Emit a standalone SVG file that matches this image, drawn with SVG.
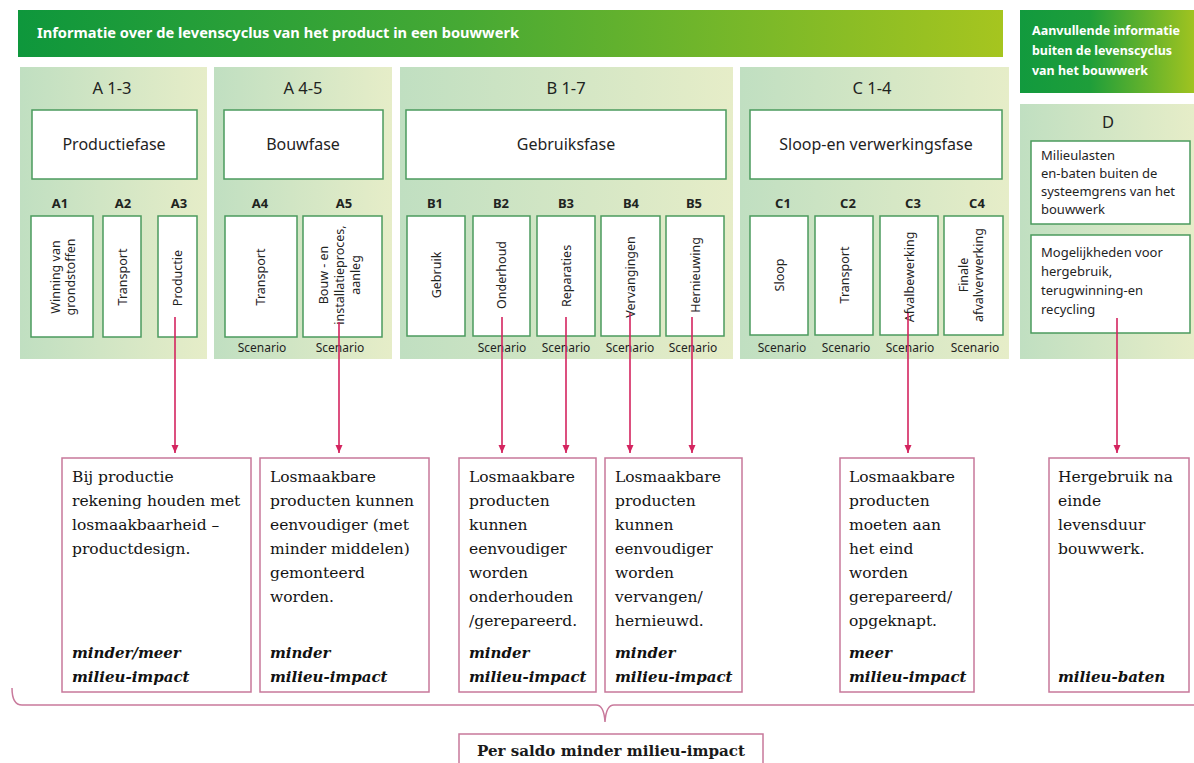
<svg xmlns="http://www.w3.org/2000/svg" width="1194" height="763" viewBox="0 0 1194 763">
<defs>
<linearGradient id="banner" x1="0" y1="0" x2="1" y2="0">
<stop offset="0" stop-color="#0e973c"/>
<stop offset="0.45" stop-color="#46a934"/>
<stop offset="1" stop-color="#a6c51f"/>
</linearGradient>
<linearGradient id="banner2" x1="0" y1="0" x2="1" y2="0">
<stop offset="0" stop-color="#129a3e"/>
<stop offset="0.4" stop-color="#1e9e3a"/>
<stop offset="1" stop-color="#a0c320"/>
</linearGradient>
<linearGradient id="panel" x1="0" y1="0" x2="1" y2="0">
<stop offset="0" stop-color="#c0dfc1"/>
<stop offset="1" stop-color="#e6edc8"/>
</linearGradient>
<marker id="arr" markerWidth="8" markerHeight="8" refX="8" refY="4" orient="auto" markerUnits="userSpaceOnUse">
<path d="M0,0.5 L8,4 L0,7.5 z" fill="#d4245f"/>
</marker>
<style>
.panel{fill:url(#panel);}
.gbox{fill:#ffffff;stroke:#4b9a5e;stroke-width:1.5;}
.pbox{fill:#ffffff;stroke:#c7789a;stroke-width:1.5;}
.ttl{font-family:"Noto Sans","DejaVu Sans",sans-serif;font-size:16.5px;fill:#1f241f;text-anchor:middle;}
.ph{font-family:"Noto Sans","DejaVu Sans",sans-serif;font-size:16px;fill:#1f241f;text-anchor:middle;}
.sub{font-family:"Noto Sans","DejaVu Sans",sans-serif;font-size:13px;font-weight:bold;fill:#1f241f;text-anchor:middle;}
.rot{font-family:"Noto Sans","DejaVu Sans",sans-serif;font-size:12.5px;fill:#1f241f;text-anchor:middle;dominant-baseline:central;}
.scn{font-family:"Noto Sans","DejaVu Sans",sans-serif;font-size:12px;fill:#1f241f;text-anchor:middle;}
.dtx{font-family:"Noto Sans","DejaVu Sans",sans-serif;font-size:13px;fill:#1f241f;}
.wh{font-family:"Noto Sans","DejaVu Sans",sans-serif;font-weight:bold;fill:#ffffff;}
.ser{font-family:"DejaVu Serif","Liberation Serif",serif;font-size:15.5px;fill:#141414;}
.bi{font-family:"DejaVu Serif","Liberation Serif",serif;font-size:15px;font-weight:bold;font-style:italic;fill:#111111;}
.conn{stroke:#d4245f;stroke-width:1.6;fill:none;}
</style>
</defs>
<rect width="1194" height="763" fill="#ffffff"/>

<g id="banner-main">
<rect x="18" y="10" width="985" height="47" fill="url(#banner)"/>
<text class="wh" x="37" y="38" font-size="14" textLength="482" lengthAdjust="spacingAndGlyphs">Informatie over de levenscyclus van het product in een bouwwerk</text>
</g>
<g id="banner-extra">
<rect x="1020" y="10" width="174" height="83" fill="url(#banner2)"/>
<text class="wh" font-size="12.5" x="1032" y="35" textLength="148" lengthAdjust="spacingAndGlyphs">Aanvullende informatie</text>
<text class="wh" font-size="12.5" x="1032" y="55" textLength="140" lengthAdjust="spacingAndGlyphs">buiten de levenscyclus</text>
<text class="wh" font-size="12.5" x="1032" y="75" textLength="116" lengthAdjust="spacingAndGlyphs">van het bouwwerk</text>
</g>

<g id="phase-A13">
<rect class="panel" x="20" y="67" width="187" height="292"/>
<text class="ttl" x="112" y="94">A 1-3</text>
<rect class="gbox" x="32" y="110" width="165" height="69"/>
<text class="ph" x="114" y="150">Productiefase</text>
<text class="sub" x="60" y="208">A1</text>
<text class="sub" x="123" y="208">A2</text>
<text class="sub" x="179" y="208">A3</text>
<rect class="gbox" x="31" y="216" width="62" height="121"/>
<rect class="gbox" x="103" y="216" width="38" height="121"/>
<rect class="gbox" x="158" y="216" width="39" height="121"/>
<text class="rot" transform="translate(62,277) rotate(-90)"><tspan x="0" y="-7.5">Winning van</tspan><tspan x="0" y="7.5">grondstoffen</tspan></text>
<text class="rot" transform="translate(122,277) rotate(-90)" x="0" y="0">Transport</text>
<text class="rot" transform="translate(177,278) rotate(-90)" x="0" y="0">Productie</text>
</g>

<g id="phase-A45">
<rect class="panel" x="214" y="67" width="178" height="292"/>
<text class="ttl" x="303" y="94">A 4-5</text>
<rect class="gbox" x="224" y="110" width="159" height="69"/>
<text class="ph" x="303" y="150">Bouwfase</text>
<text class="sub" x="260" y="208">A4</text>
<text class="sub" x="344" y="208">A5</text>
<rect class="gbox" x="225" y="216" width="72" height="121"/>
<rect class="gbox" x="303" y="216" width="79" height="121"/>
<text class="rot" transform="translate(260,277) rotate(-90)" x="0" y="0">Transport</text>
<text class="rot" transform="translate(339,275) rotate(-90)"><tspan x="0" y="-16">Bouw - en</tspan><tspan x="0" y="0">installatieproces,</tspan><tspan x="0" y="16">aanleg</tspan></text>
<text class="scn" x="262" y="352">Scenario</text>
<text class="scn" x="340" y="352">Scenario</text>
</g>

<g id="phase-B17">
<rect class="panel" x="400" y="67" width="333" height="292"/>
<text class="ttl" x="566" y="94">B 1-7</text>
<rect class="gbox" x="406" y="110" width="320" height="69"/>
<text class="ph" x="566" y="150">Gebruiksfase</text>
<text class="sub" x="435" y="208">B1</text>
<text class="sub" x="501" y="208">B2</text>
<text class="sub" x="566" y="208">B3</text>
<text class="sub" x="631" y="208">B4</text>
<text class="sub" x="694" y="208">B5</text>
<rect class="gbox" x="407" y="216" width="58" height="120"/>
<rect class="gbox" x="473" y="216" width="57" height="120"/>
<rect class="gbox" x="537" y="216" width="58" height="120"/>
<rect class="gbox" x="601" y="216" width="59" height="120"/>
<rect class="gbox" x="666" y="216" width="58" height="120"/>
<text class="rot" transform="translate(436,275) rotate(-90)" x="0" y="0">Gebruik</text>
<text class="rot" transform="translate(501,275) rotate(-90)" x="0" y="0">Onderhoud</text>
<text class="rot" transform="translate(566,276) rotate(-90)" x="0" y="0">Reparaties</text>
<text class="rot" transform="translate(630,277) rotate(-90)" x="0" y="0">Vervangingen</text>
<text class="rot" transform="translate(695,275) rotate(-90)" x="0" y="0">Hernieuwing</text>
<text class="scn" x="502" y="352">Scenario</text>
<text class="scn" x="566" y="352">Scenario</text>
<text class="scn" x="630" y="352">Scenario</text>
<text class="scn" x="693" y="352">Scenario</text>
</g>

<g id="phase-C14">
<rect class="panel" x="740" y="67" width="269" height="292"/>
<text class="ttl" x="872" y="94">C 1-4</text>
<rect class="gbox" x="750" y="110" width="252" height="69"/>
<text class="ph" x="876" y="150">Sloop-en verwerkingsfase</text>
<text class="sub" x="783" y="208">C1</text>
<text class="sub" x="848" y="208">C2</text>
<text class="sub" x="913" y="208">C3</text>
<text class="sub" x="977" y="208">C4</text>
<rect class="gbox" x="750" y="216" width="58" height="119"/>
<rect class="gbox" x="815" y="216" width="58" height="119"/>
<rect class="gbox" x="880" y="216" width="58" height="119"/>
<rect class="gbox" x="944" y="216" width="59" height="119"/>
<text class="rot" transform="translate(779,275) rotate(-90)" x="0" y="0">Sloop</text>
<text class="rot" transform="translate(844,275) rotate(-90)" x="0" y="0">Transport</text>
<text class="rot" transform="translate(909,277) rotate(-90)" x="0" y="0">Afvalbewerking</text>
<text class="rot" transform="translate(970,275) rotate(-90)"><tspan x="0" y="-7.5">Finale</tspan><tspan x="0" y="7.5">afvalverwerking</tspan></text>
<text class="scn" x="782" y="352">Scenario</text>
<text class="scn" x="846" y="352">Scenario</text>
<text class="scn" x="910" y="352">Scenario</text>
<text class="scn" x="975" y="352">Scenario</text>
</g>

<g id="phase-D">
<rect class="panel" x="1020" y="104" width="174" height="255"/>
<text class="ttl" x="1108" y="128">D</text>
<rect class="gbox" x="1031" y="141" width="159" height="83"/>
<text class="dtx" x="1041" y="160">Milieulasten</text>
<text class="dtx" x="1041" y="178">en-baten buiten de</text>
<text class="dtx" x="1041" y="196">systeemgrens van het</text>
<text class="dtx" x="1041" y="214">bouwwerk</text>
<rect class="gbox" x="1031" y="235" width="159" height="98"/>
<text class="dtx" x="1041" y="257">Mogelijkheden voor</text>
<text class="dtx" x="1041" y="276">hergebruik,</text>
<text class="dtx" x="1041" y="295">terugwinning-en</text>
<text class="dtx" x="1041" y="314">recycling</text>
</g>

<g id="connectors">
<line class="conn" x1="175" y1="317" x2="175" y2="453" marker-end="url(#arr)"/>
<line class="conn" x1="339" y1="322" x2="339" y2="453" marker-end="url(#arr)"/>
<line class="conn" x1="502" y1="317" x2="502" y2="453" marker-end="url(#arr)"/>
<line class="conn" x1="566" y1="317" x2="566" y2="453" marker-end="url(#arr)"/>
<line class="conn" x1="630" y1="313" x2="630" y2="453" marker-end="url(#arr)"/>
<line class="conn" x1="692" y1="317" x2="692" y2="453" marker-end="url(#arr)"/>
<line class="conn" x1="908" y1="313" x2="908" y2="453" marker-end="url(#arr)"/>
<line class="conn" x1="1117" y1="318" x2="1117" y2="453" marker-end="url(#arr)"/>
<path d="M12,688 Q12,705 22,705 L596,705 Q604,705 605,722 Q606,705 614,705 L1194,705" fill="none" stroke="#c97a9c" stroke-width="1.5"/>
</g>

<g id="box-A3">
<rect class="pbox" x="62" y="458" width="189" height="234"/>
<text class="ser" x="72" y="482">Bij productie</text>
<text class="ser" x="72" y="506">rekening houden met</text>
<text class="ser" x="72" y="530">losmaakbaarheid –</text>
<text class="ser" x="72" y="554">productdesign.</text>
<text class="bi" x="72" y="658">minder/meer</text>
<text class="bi" x="72" y="682">milieu-impact</text>
</g>
<g id="box-A5">
<rect class="pbox" x="260" y="458" width="169" height="234"/>
<text class="ser" x="270" y="482">Losmaakbare</text>
<text class="ser" x="270" y="506">producten kunnen</text>
<text class="ser" x="270" y="530">eenvoudiger (met</text>
<text class="ser" x="270" y="554">minder middelen)</text>
<text class="ser" x="270" y="578">gemonteerd</text>
<text class="ser" x="270" y="602">worden.</text>
<text class="bi" x="270" y="658">minder</text>
<text class="bi" x="270" y="682">milieu-impact</text>
</g>
<g id="box-B23">
<rect class="pbox" x="459" y="458" width="137" height="234"/>
<text class="ser" x="469" y="482">Losmaakbare</text>
<text class="ser" x="469" y="506">producten</text>
<text class="ser" x="469" y="530">kunnen</text>
<text class="ser" x="469" y="554">eenvoudiger</text>
<text class="ser" x="469" y="578">worden</text>
<text class="ser" x="469" y="602">onderhouden</text>
<text class="ser" x="469" y="626">/gerepareerd.</text>
<text class="bi" x="469" y="658">minder</text>
<text class="bi" x="469" y="682">milieu-impact</text>
</g>
<g id="box-B45">
<rect class="pbox" x="605" y="458" width="137" height="234"/>
<text class="ser" x="615" y="482">Losmaakbare</text>
<text class="ser" x="615" y="506">producten</text>
<text class="ser" x="615" y="530">kunnen</text>
<text class="ser" x="615" y="554">eenvoudiger</text>
<text class="ser" x="615" y="578">worden</text>
<text class="ser" x="615" y="602">vervangen/</text>
<text class="ser" x="615" y="626">hernieuwd.</text>
<text class="bi" x="615" y="658">minder</text>
<text class="bi" x="615" y="682">milieu-impact</text>
</g>
<g id="box-C3">
<rect class="pbox" x="840" y="458" width="134" height="234"/>
<text class="ser" x="849" y="482">Losmaakbare</text>
<text class="ser" x="849" y="506">producten</text>
<text class="ser" x="849" y="530">moeten aan</text>
<text class="ser" x="849" y="554">het eind</text>
<text class="ser" x="849" y="578">worden</text>
<text class="ser" x="849" y="602">gerepareerd/</text>
<text class="ser" x="849" y="626">opgeknapt.</text>
<text class="bi" x="849" y="658">meer</text>
<text class="bi" x="849" y="682">milieu-impact</text>
</g>
<g id="box-D">
<rect class="pbox" x="1049" y="458" width="140" height="234"/>
<text class="ser" x="1058" y="482">Hergebruik na</text>
<text class="ser" x="1058" y="506">einde</text>
<text class="ser" x="1058" y="530">levensduur</text>
<text class="ser" x="1058" y="554">bouwwerk.</text>
<text class="bi" x="1058" y="682">milieu-baten</text>
</g>
<g id="box-total">
<rect class="pbox" x="459" y="734" width="304" height="40"/>
<text x="611" y="756" text-anchor="middle" font-family="DejaVu Serif, Liberation Serif, serif" font-size="15" font-weight="bold" fill="#1a1a1a" textLength="268" lengthAdjust="spacingAndGlyphs">Per saldo minder milieu-impact</text>
</g>
</svg>
